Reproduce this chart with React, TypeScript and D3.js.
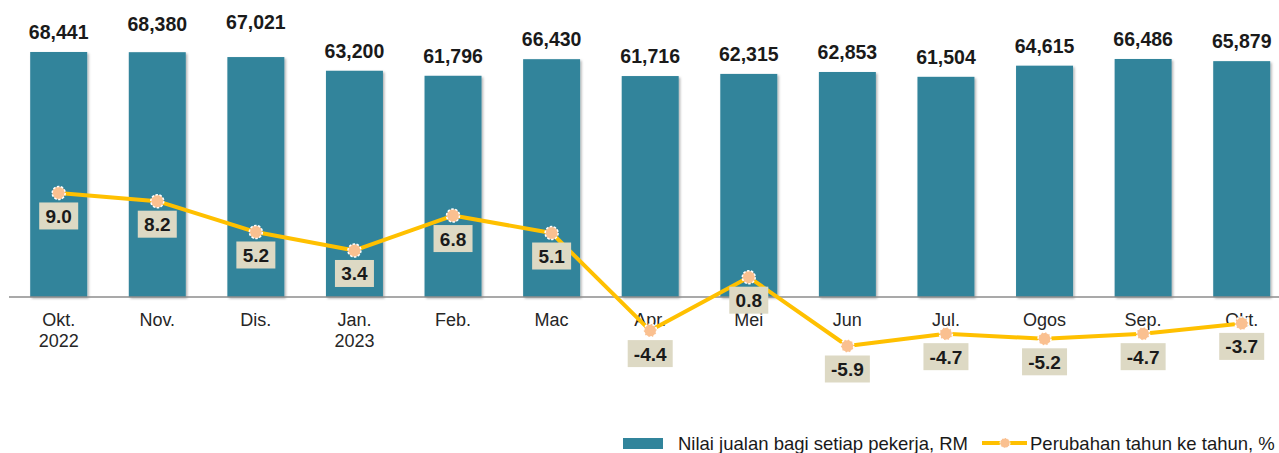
import React from "react";
import * as d3 from "d3";

const months = ["Okt.\n2022", "Nov.", "Dis.", "Jan.\n2023", "Feb.", "Mac", "Apr.", "Mei", "Jun", "Jul.", "Ogos", "Sep.", "Okt."];
const salesPerWorker = [68441, 68380, 67021, 63200, 61796, 66430, 61716, 62315, 62853, 61504, 64615, 66486, 65879];
const yoyChange = [9.0, 8.2, 5.2, 3.4, 6.8, 5.1, -4.4, 0.8, -5.9, -4.7, -5.2, -4.7, -3.7];
const seriesNames = ["Nilai jualan bagi setiap pekerja, RM", "Perubahan tahun ke tahun, %"];

// manual label nudges seen in the original (index -> extra px upward)
const valueLabelLift: Record<number, number> = { 1: 8, 2: 15 };

const W = 1279;
const H = 453;
const FONT = "'Liberation Sans', Arial, Helvetica, sans-serif";
const BAR = "#31849b";
const LINE = "#ffc000";
const MARK = "#fac090";
const BOX = "#ddd9c4";

export default function App() {
  const keys = months.map((_, i) => String(i));
  const x = d3.scaleBand<string>().domain(keys).range([9.4, 1291]).paddingInner(0.422).paddingOuter(0.211);
  const yBar = d3.scaleLinear().domain([0, 80000]).range([297, 10.6]);
  const yPct = d3.scaleLinear().domain([-10, 10]).range([388.1, 182.7]);
  const cx = (i: number) => (x(String(i)) as number) + x.bandwidth() / 2;

  const line = d3
    .line<number>()
    .x((_, i) => cx(i))
    .y((d) => yPct(d));

  const fmt = d3.format(",");

  return (
    <svg width={W} height={H} style={{ position: "absolute", left: 0, top: 0 }} fontFamily={FONT}>
      <defs>
        <filter id="shadow" x="-20%" y="-20%" width="140%" height="140%">
          <feDropShadow dx="1.5" dy="1.5" stdDeviation="1.2" floodColor="#000" floodOpacity="0.3" />
        </filter>
      </defs>
      <rect width={W} height={H} fill="#fff" />
      {salesPerWorker.map((v, i) => (
        <rect
          key={"b" + i}
          x={x(String(i))}
          y={yBar(v)}
          width={x.bandwidth()}
          height={yBar(0) - yBar(v)}
          fill={BAR}
          filter="url(#shadow)"
        />
      ))}
      <line x1={9} x2={1279} y1={yBar(0)} y2={yBar(0)} stroke="#8c8c8c" strokeWidth={1.5} />
      {salesPerWorker.map((v, i) => (
        <text
          key={"v" + i}
          x={cx(i)}
          y={yBar(v) - 13 - (valueLabelLift[i] || 0)}
          textAnchor="middle"
          fontSize={19.5}
          fontWeight="bold"
          fill="#1a1a1a"
        >
          {fmt(v)}
        </text>
      ))}
      {months.map((m, i) => (
        <text key={"m" + i} x={cx(i)} y={326} textAnchor="middle" fontSize={18} fill="#262626">
          {m.split("\n").map((t, j) => (
            <tspan key={j} x={cx(i)} dy={j === 0 ? 0 : 21}>
              {t}
            </tspan>
          ))}
        </text>
      ))}
      <path d={line(yoyChange) || ""} fill="none" stroke={LINE} strokeWidth={4} strokeLinejoin="round" />
      {yoyChange.map((v, i) => (
        <circle
          key={"c" + i}
          cx={cx(i)}
          cy={yPct(v)}
          r={6.5}
          fill={MARK}
          stroke="#fff"
          strokeWidth={1.5}
          strokeDasharray="2.5 1.5"
        />
      ))}
      {yoyChange.map((v, i) => {
        const label = v.toFixed(1);
        const w = label.length * 10 + (label.startsWith("-") ? 5 : 9);
        const top = yPct(v) + 9.5;
        return (
          <g key={"l" + i}>
            <rect x={cx(i) - w / 2} y={top} width={w} height={27} fill={BOX} />
            <text x={cx(i)} y={top + 20.5} textAnchor="middle" fontSize={19} fontWeight="bold" fill="#1a1a1a">
              {label}
            </text>
          </g>
        );
      })}
      {/* legend */}
      <rect x={623} y={438} width={40} height={11} fill={BAR} />
      <text x={678} y={450} fontSize={18.5} fill="#1a1a1a">
        {seriesNames[0]}
      </text>
      <line x1={982} x2={1027} y1={443} y2={443} stroke={LINE} strokeWidth={4} />
      <circle cx={1005} cy={443} r={5} fill={MARK} stroke="#fff" strokeWidth={1} strokeDasharray="2 1" />
      <text x={1030} y={450} fontSize={18.5} fill="#1a1a1a">
        {seriesNames[1]}
      </text>
    </svg>
  );
}
